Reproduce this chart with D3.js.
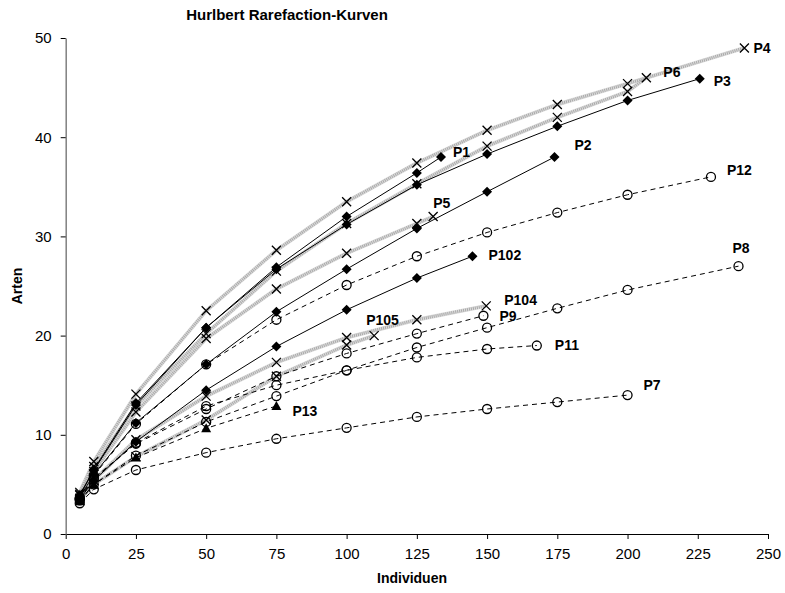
<!DOCTYPE html>
<html>
<head>
<meta charset="utf-8">
<script src="https://cdn.jsdelivr.net/npm/d3@7"></script>
<style>
  body { margin: 0; background: #fff; }
  svg text { font-family: "Liberation Sans", Arial, sans-serif; }
</style>
</head>
<body>
<div id="chart"></div>
<script>
// Hurlbert Rarefaction-Kurven

const sampleSizes = [5, 10, 25, 50, 75, 100, 125, 150, 175, 200];
const xTicks = [0, 25, 50, 75, 100, 125, 150, 175, 200, 225, 250];
const yTicks = [0, 10, 20, 30, 40, 50];

const seriesNames = ["P4", "P6", "P3", "P1", "P2", "P5", "P12", "P102", "P8", "P104", "P9", "P105", "P11", "P13", "P7"];
// total individuals (last point) and species at that point, null = no extra point
const totalN = [241.6, 206.7, 225.7, 133.6, 174, 130.8, 229.7, 144.8, 239.5, 149.7, 148.7, 109.8, 167.7, null, null];
const totalS = [49.0, 46.0, 45.9, 38.0, 38.0, 32.0, 36.0, 28.0, 27.0, 23.0, 22.0, 20.0, 19.0, null, null];

const p4 = [4.2, 7.3, 14.1, 22.5, 28.6, 33.5, 37.4, 40.7, 43.3, 45.4];
const p6 = [4.0, 6.8, 12.9, 20.2, 26.5, 31.3, 35.3, 39.1, 42.0, 44.6];
const p3 = [3.9, 6.4, 13.0, 20.8, 26.7, 31.2, 35.2, 38.3, 41.1, 43.7];
const p1 = [3.9, 6.5, 13.2, 20.8, 26.9, 32.0, 36.4];
const p2 = [3.7, 6.0, 11.2, 17.1, 22.4, 26.7, 30.8, 34.5];
const p5 = [3.9, 6.3, 12.3, 19.7, 24.7, 28.3, 31.3];
const p12 = [3.6, 5.9, 11.1, 17.1, 21.6, 25.1, 28.0, 30.4, 32.4, 34.2];
const p102 = [3.5, 5.4, 9.3, 14.5, 18.9, 22.6, 25.8];
const p8 = [3.4, 5.0, 7.9, 11.3, 13.9, 16.5, 18.8, 20.8, 22.75, 24.6];
const p104 = [3.6, 5.4, 9.5, 13.9, 17.3, 19.8, 21.6];
const p9 = [3.6, 5.6, 9.1, 12.6, 15.9, 18.2, 20.2];
const p105 = [3.4, 5.0, 7.8, 11.5, 15.9, 19.05];
const p11 = [3.5, 5.6, 9.2, 12.9, 15.0, 16.5, 17.8, 18.65];
const p13 = [3.3, 5.0, 7.7, 10.65, 12.9];
const p7 = [3.1, 4.5, 6.45, 8.2, 9.6, 10.7, 11.8, 12.6, 13.3, 14.0];

const seriesValues = [p4, p6, p3, p1, p2, p5, p12, p102, p8, p104, p9, p105, p11, p13, p7];

// look of each series
const lineStyle = ["grey", "grey", "solid", "solid", "solid", "grey", "dashed", "solid", "dashed", "grey", "dashed", "grey", "dashed", "dashed", "dashed"];
const markerType = ["x", "x", "diamond", "diamond", "diamond", "x", "circle", "diamond", "circle", "x", "circle", "x", "circle", "triangle", "circle"];
// label offset from last point (px)
const labelDx = [9, 17, 14, 12, 20, 0, 16, 16, -6, 18, 16, -8, 18, 16, 16];
const labelDy = [5, -1, 7, 0, -7, -9, -2, 4, -13, -1, 5, -11, 4, 10, -5];

const width = 785, height = 593;
const svg = d3.select("#chart").append("svg")
    .attr("width", width)
    .attr("height", height);

const x = d3.scaleLinear().domain([0, 250]).range([65.7, 768]);
const y = d3.scaleLinear().domain([0, 50]).range([534, 38]);

// build point lists
const series = seriesNames.map((name, i) => {
    const vals = seriesValues[i];
    const pts = vals.map((v, j) => ({ n: sampleSizes[j], s: v }));
    if (totalN[i] != null) pts.push({ n: totalN[i], s: totalS[i] });
    return { name: name, pts: pts, style: lineStyle[i], marker: markerType[i], dx: labelDx[i], dy: labelDy[i] };
});

// axes
const xAxis = svg.append("g")
    .attr("transform", `translate(0,${y(0)})`)
    .call(d3.axisBottom(x).tickValues(xTicks).tickSize(5).tickSizeOuter(0).tickPadding(9));
xAxis.select(".domain").attr("stroke", "#000").attr("stroke-width", 1.2);
xAxis.selectAll(".tick line").attr("stroke", "#000");
xAxis.selectAll("text").style("font-size", "15px").attr("fill", "#000");

const yAxis = svg.append("g")
    .attr("transform", `translate(${x(0)},0)`)
    .call(d3.axisLeft(y).tickValues(yTicks).tickSize(5).tickSizeOuter(0).tickPadding(9));
yAxis.select(".domain").attr("stroke", "#808080").attr("stroke-width", 1.5);
yAxis.selectAll(".tick line").attr("stroke", "#000");
yAxis.selectAll("text").style("font-size", "15px").attr("fill", "#000");

const line = d3.line().x(d => x(d.n)).y(d => y(d.s));

// lines: grey band first, then a fine dotted texture on top of it
const greySeries = series.filter(d => d.style == "grey");
svg.selectAll("path.band")
    .data(greySeries)
    .join("path")
    .attr("class", "band")
    .attr("d", d => line(d.pts))
    .attr("fill", "none")
    .attr("stroke", "#dcdcdc")
    .attr("stroke-width", 4);
svg.selectAll("path.texture")
    .data(greySeries)
    .join("path")
    .attr("class", "texture")
    .attr("d", d => line(d.pts))
    .attr("fill", "none")
    .attr("stroke", "#a9a9a9")
    .attr("stroke-width", 3)
    .attr("stroke-dasharray", "1,1");

svg.selectAll("path.series")
    .data(series.filter(d => d.style != "grey"))
    .join("path")
    .attr("class", "series")
    .attr("d", d => line(d.pts))
    .attr("fill", "none")
    .attr("stroke", "#000")
    .attr("stroke-width", 1)
    .attr("stroke-dasharray", d => d.style == "dashed" ? "5,4" : null);

// markers
const groups = svg.selectAll("g.marks")
    .data(series)
    .join("g")
    .attr("class", "marks");

groups.each(function(d) {
    const g = d3.select(this);
    d.pts.forEach(p => {
        const cx = x(p.n), cy = y(p.s);
        if (d.marker == "x") {
            g.append("path")
                .attr("d", `M${cx - 4.5},${cy - 4.5}L${cx + 4.5},${cy + 4.5}M${cx - 4.5},${cy + 4.5}L${cx + 4.5},${cy - 4.5}`)
                .attr("stroke", "#000").attr("stroke-width", 1.3);
        } else if (d.marker == "diamond") {
            g.append("path")
                .attr("d", `M${cx},${cy - 5}L${cx + 5},${cy}L${cx},${cy + 5}L${cx - 5},${cy}Z`)
                .attr("fill", "#000");
        } else if (d.marker == "circle") {
            g.append("circle")
                .attr("cx", cx).attr("cy", cy).attr("r", 4.5)
                .attr("fill", "none").attr("stroke", "#000").attr("stroke-width", 1.3);
        } else {
            g.append("path")
                .attr("d", `M${cx},${cy - 5}L${cx + 5},${cy + 4}L${cx - 5},${cy + 4}Z`)
                .attr("fill", "#000");
        }
    });
});

// series labels
svg.selectAll("text.lbl")
    .data(series)
    .join("text")
    .attr("class", "lbl")
    .attr("x", d => x(d.pts[d.pts.length - 1].n) + d.dx)
    .attr("y", d => y(d.pts[d.pts.length - 1].s) + d.dy)
    .text(d => d.name)
    .style("font-size", "14px")
    .style("font-weight", "bold");

// title and axis titles
svg.append("text")
    .attr("x", 287).attr("y", 20)
    .attr("text-anchor", "middle")
    .style("font-size", "15px").style("font-weight", "bold")
    .text("Hurlbert Rarefaction-Kurven");

svg.append("text")
    .attr("x", 412).attr("y", 583)
    .attr("text-anchor", "middle")
    .style("font-size", "14px").style("font-weight", "bold")
    .text("Individuen");

svg.append("text")
    .attr("transform", "translate(22,286) rotate(-90)")
    .attr("text-anchor", "middle")
    .style("font-size", "14px").style("font-weight", "bold")
    .text("Arten");
</script>
</body>
</html>
